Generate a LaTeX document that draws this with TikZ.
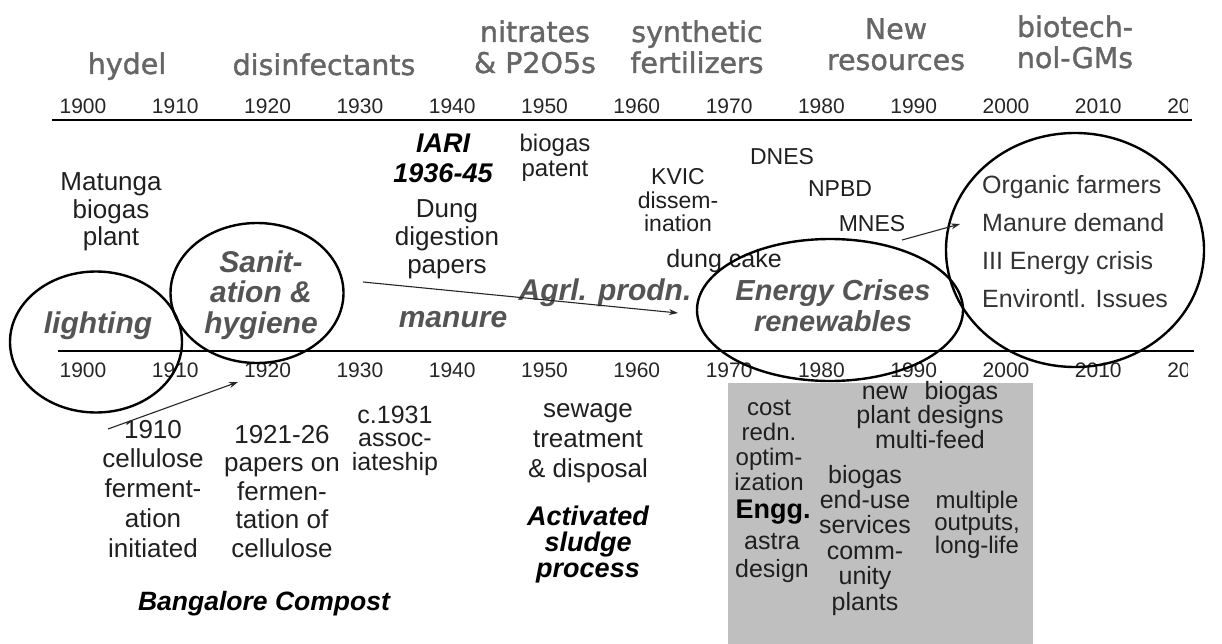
\documentclass[tikz,border=0pt]{standalone}
\usepackage{fontspec}
\setmainfont{Liberation Sans}
\newfontfamily\headfont[FakeBold=1.3]{DejaVu Sans}
\usetikzlibrary{arrows.meta,shapes.geometric}
\newcommand{\fsz}[2]{\fontsize{#1}{#2}\selectfont}

\begin{document}
\begin{tikzpicture}[
    x=1pt, y=-1pt,
    >={Stealth[length=9pt,width=6pt]},
    head/.style  = {font=\headfont\fsz{28.5}{31}, text=black!60,
                     align=center, anchor=base, inner sep=0pt},
    yr/.style    = {font=\fsz{21}{21}, text=black!85, inner sep=0pt},
    txt/.style   = {align=center, anchor=base, text=black!88, inner sep=0pt},
    era/.style   = {txt, font=\bfseries\itshape\fsz{30}{30.5}, text=black!67},
    bolditem/.style = {txt, font=\bfseries\itshape\fsz{27}{30}, text=black},
    issues/.style = {font=\fsz{25}{38}, text=black!80, align=left,
                     anchor=base west, inner sep=0pt},
    ring/.style  = {ellipse, draw=black, line width=2.4pt, inner sep=0pt},
    axis/.style  = {line width=2.6pt, black},
    link/.style  = {->, line width=1.1pt, black!85},
  ]
  \useasboundingbox (0,0) rectangle (1222,644);
  % shaded engineering block
  \fill[black!25] (728,383) rectangle (1033,644);
  % the two time axes
  \draw[axis] (52,120) -- (1192,120);
  \draw[axis] (58,351) -- (1194,351);
  % years, the last one cut by the edge
  \begin{scope}
    \clip (0,0) rectangle (1187,644);
    \foreach \k in {0,...,12}{
      \pgfmathsetmacro\x{83+92.3*\k}
      \pgfmathtruncatemacro\yr{1900+10*\k}
      \node[yr] (top\yr) at (\x,106) {\yr};
      \node[yr] (bot\yr) at (\x,370) {\yr};
    }
  \end{scope}
  % headings above the upper axis (positions give the last baseline)
  \node[head] (hydel)   at (127,74)  {hydel};
  \node[head] (disinf)  at (324,75)  {disinfectants};
  \node[head] (nitr)    at (535,73)  {nitrates\\\& P2O5s};
  \node[head] (synth)   at (697,73)  {synthetic\\fertilizers};
  \node[head] (newres)  at (896,70)  {New\\resources};
  \node[head] (biotech) at (1075,68) {biotech-\\nol-GMs};
  % between the axes
  \node[txt, font=\fsz{26}{27.5}] (matunga) at (111,246) {Matunga\\biogas\\plant};
  \node[era] (light) at (98,333) {lighting};
  \node[era] (sanit) at (261,333) {Sanit-\\ation \&\\hygiene};
  \node[bolditem] (iari) at (443,183) {IARI\\1936-45};
  \node[txt, font=\fsz{26}{28}] (dung) at (447,273) {Dung\\digestion\\papers};
  \node[txt, font=\fsz{24}{25}] (patent) at (555,177) {biogas\\patent};
  \node[txt, font=\fsz{23}{23.5}] (kvic) at (678,232) {KVIC\\dissem-\\ination};
  \node[txt, font=\fsz{23}{23}] (dnes) at (782,165) {DNES};
  \node[txt, font=\fsz{23}{23}] (npbd) at (840,197) {NPBD};
  \node[txt, font=\fsz{23}{23}] (mnes) at (872,232) {MNES};
  \node[txt, font=\fsz{25}{25}] (cake) at (724,267) {dung cake};
  \node[era] (manure) at (453,327) {manure};
  \node[era] (agrl)   at (605,300) {Agrl. prodn.};
  \node[era, font=\bfseries\itshape\fsz{29}{31}] (crises) at (833,331)
       {Energy Crises\\renewables};
  \node[issues] (organic) at (982,307)
       {Organic farmers\\Manure demand\\III Energy crisis\\Environtl. Issues};
  % below the lower axis
  \node[txt, font=\fsz{26}{29.7}] (cell) at (153,557)
       {1910\\cellulose\\ferment-\\ation\\initiated};
  \node[txt, font=\fsz{26}{28.5}] (ferm) at (282,557)
       {1921-26\\papers on\\fermen-\\tation of\\cellulose};
  \node[txt, font=\fsz{25}{23.5}] (assoc) at (395,470) {c.1931\\assoc-\\iateship};
  \node[txt, font=\fsz{26}{30}] (sewage) at (588,477) {sewage\\treatment\\\& disposal};
  \node[bolditem, font=\bfseries\itshape\fsz{27}{26}] (sludge) at (588,577)
       {Activated\\sludge\\process};
  \node[bolditem, font=\bfseries\itshape\fsz{26.5}{26.5}] (compost) at (264,610)
       {Bangalore Compost};
  % inside the shaded block
  \node[txt, font=\fsz{24}{25}] (cost) at (769,490) {cost\\redn.\\optim-\\ization};
  \node[txt, font=\bfseries\fsz{27}{27}, text=black] (engg) at (773,518) {Engg.};
  \node[txt, font=\fsz{25}{28}] (astra) at (772,577) {astra\\design};
  \node[txt, font=\fsz{25}{22.5}] (designs) at (930,448)
       {new\hspace{10pt} biogas\\plant designs\\multi-feed};
  \node[txt, font=\fsz{25}{25.4}] (enduse) at (865,610)
       {biogas\\end-use\\services\\comm-\\unity\\plants};
  \node[txt, font=\fsz{24}{22.5}] (multi) at (977,553) {multiple\\outputs,\\long-life};
  % circled eras
  \node[ring, minimum width=172, minimum height=141] (lightring)   at (96,342)  {};
  \node[ring, minimum width=173, minimum height=140] (sanitring)   at (257,293) {};
  \node[ring, minimum width=266, minimum height=142] (energyring)  at (830,310) {};
  \node[ring, minimum width=258, minimum height=234] (organicring) at (1075,250) {};
  % arrows
  \coordinate (celltail) at (108,429);
  \coordinate (celltip)  at (238,382);
  \coordinate (dungtail) at (363,282);
  \coordinate (dungtip)  at (678,313);
  \coordinate (mnestail) at (902,240);
  \coordinate (mnestip)  at (960,224);
  \draw[link] (celltail) -- (celltip);
  \draw[link] (dungtail) -- (dungtip);
  \draw[link] (mnestail) -- (mnestip);
\end{tikzpicture}
\end{document}
